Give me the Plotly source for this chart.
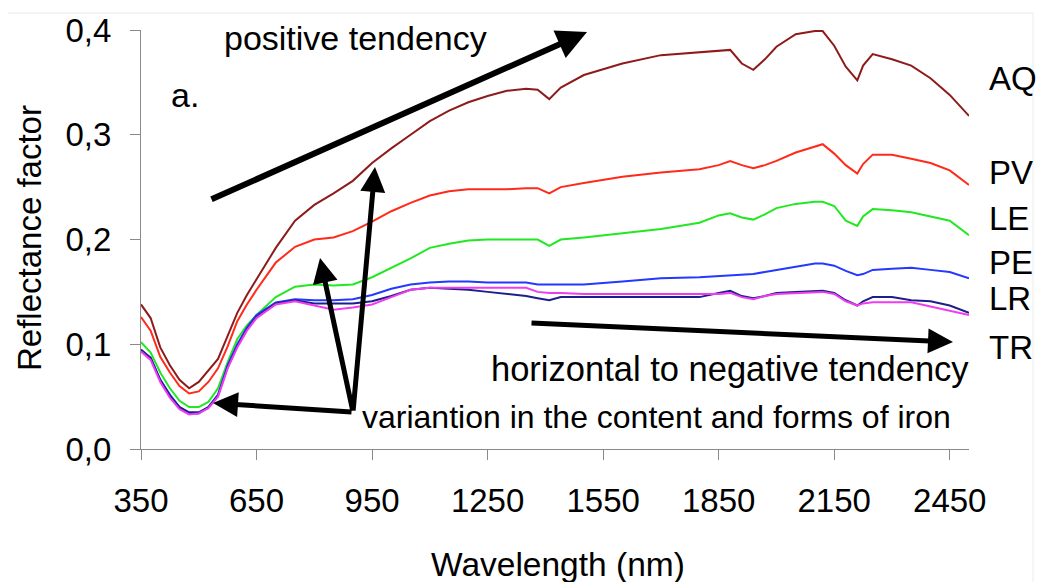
import plotly.graph_objects as go

# ---------------- data ----------------
wavelength = [350, 375, 400, 425, 450, 475, 500, 525, 550, 575, 600, 625, 650,
              700, 750, 800, 850, 900, 950, 1000, 1050, 1100, 1150, 1200, 1250,
              1300, 1350, 1380, 1410, 1440, 1500, 1600, 1700, 1800, 1850, 1880,
              1910, 1940, 1970, 2000, 2050, 2100, 2120, 2150, 2180, 2210, 2225,
              2250, 2300, 2350, 2400, 2450, 2500]

AQ = [0.138, 0.125, 0.097, 0.080, 0.066, 0.058, 0.064, 0.075, 0.086, 0.108, 0.130, 0.147, 0.162,
      0.192, 0.218, 0.233, 0.244, 0.256, 0.273, 0.287, 0.300, 0.313, 0.323, 0.331, 0.337,
      0.342, 0.344, 0.343, 0.334, 0.345, 0.357, 0.368, 0.376, 0.379, 0.380, 0.381,
      0.368, 0.362, 0.372, 0.384, 0.396, 0.399, 0.399, 0.385, 0.365, 0.352, 0.366,
      0.377, 0.372, 0.366, 0.354, 0.338, 0.318]

PV = [0.126, 0.113, 0.088, 0.073, 0.060, 0.053, 0.055, 0.064, 0.077, 0.098, 0.122, 0.138, 0.152,
      0.178, 0.193, 0.200, 0.202, 0.208, 0.217, 0.227, 0.235, 0.242, 0.246, 0.248, 0.248,
      0.248, 0.249, 0.249, 0.244, 0.250, 0.254, 0.260, 0.264, 0.267, 0.271, 0.275,
      0.271, 0.268, 0.271, 0.275, 0.283, 0.289, 0.291, 0.282, 0.271, 0.263, 0.272,
      0.281, 0.281, 0.277, 0.273, 0.266, 0.252]

LE = [0.102, 0.092, 0.073, 0.058, 0.046, 0.040, 0.040, 0.045, 0.058, 0.083, 0.105, 0.118, 0.128,
      0.145, 0.155, 0.157, 0.156, 0.157, 0.164, 0.173, 0.182, 0.192, 0.196, 0.199, 0.200,
      0.200, 0.200, 0.200, 0.194, 0.200, 0.202, 0.206, 0.210, 0.216, 0.223, 0.225,
      0.221, 0.219, 0.224, 0.230, 0.234, 0.236, 0.236, 0.232, 0.218, 0.213, 0.222,
      0.229, 0.228, 0.226, 0.222, 0.218, 0.204]

PE = [0.094, 0.087, 0.066, 0.052, 0.040, 0.034, 0.034, 0.040, 0.052, 0.080, 0.100, 0.116, 0.128,
      0.140, 0.143, 0.142, 0.142, 0.143, 0.147, 0.153, 0.157, 0.159, 0.160, 0.160, 0.159,
      0.159, 0.159, 0.157, 0.157, 0.157, 0.157, 0.160, 0.163, 0.164, 0.165, 0.166,
      0.166, 0.167, 0.169, 0.171, 0.174, 0.177, 0.177, 0.175, 0.170, 0.166, 0.167,
      0.171, 0.172, 0.173, 0.171, 0.169, 0.163]

LR = [0.095, 0.087, 0.066, 0.051, 0.040, 0.035, 0.035, 0.040, 0.051, 0.078, 0.098, 0.114, 0.126,
      0.139, 0.142, 0.139, 0.139, 0.139, 0.141, 0.146, 0.152, 0.154, 0.153, 0.152, 0.150,
      0.148, 0.146, 0.144, 0.142, 0.145, 0.145, 0.145, 0.145, 0.145, 0.149, 0.151,
      0.146, 0.144, 0.146, 0.149, 0.150, 0.151, 0.151, 0.149, 0.142, 0.137, 0.141,
      0.145, 0.145, 0.142, 0.141, 0.137, 0.130]

TR = [0.093, 0.085, 0.064, 0.049, 0.038, 0.033, 0.034, 0.039, 0.050, 0.077, 0.097, 0.113, 0.125,
      0.138, 0.141, 0.137, 0.133, 0.135, 0.138, 0.145, 0.152, 0.154, 0.154, 0.154, 0.154,
      0.154, 0.154, 0.150, 0.149, 0.149, 0.148, 0.148, 0.148, 0.148, 0.148, 0.149,
      0.145, 0.143, 0.146, 0.148, 0.149, 0.150, 0.150, 0.148, 0.141, 0.137, 0.139,
      0.140, 0.140, 0.140, 0.136, 0.132, 0.128]

series_names = ["AQ", "PV", "LE", "PE", "LR", "TR"]
series_values = [AQ, PV, LE, PE, LR, TR]
series_colors = ["#8E1B1B", "#FF2A1A", "#22E822", "#2438FF", "#1C1F8A", "#F03CF0"]
label_y = [78, 172, 218, 262, 298, 347]  # pixel rows of the right-hand labels

x_tickvals = [350, 650, 950, 1250, 1550, 1850, 2150, 2450]
x_ticktext = ["350", "650", "950", "1250", "1550", "1850", "2150", "2450"]
y_tickvals = [0.0, 0.1, 0.2, 0.3, 0.4]
y_ticktext = ["0,0", "0,1", "0,2", "0,3", "0,4"]

# ---------------- layout geometry ----------------
W, H = 1039, 582
L, R, T, B = 141, 70, 30, 133
PW, PH = W - L - R, H - T - B
X0, X1 = 350, 2500
Y0, Y1 = 0.0, 0.4


def px2x(px):
    return X0 + (px - L) / PW * (X1 - X0)


def py2y(py):
    return Y0 + (T + PH - py) / PH * (Y1 - Y0)


def px2paper(px):
    return (px - L) / PW


def py2paper(py):
    return (T + PH - py) / PH


FONT = "Liberation Sans, Arial, sans-serif"

fig = go.Figure()
for name, vals, col in zip(series_names, series_values, series_colors):
    fig.add_trace(go.Scatter(x=wavelength, y=vals, mode="lines", name=name,
                             line=dict(color=col, width=2), showlegend=False))

ann = []
# right-hand series labels
for name, ly in zip(series_names, label_y):
    ann.append(dict(text=name, xref="paper", yref="paper", x=px2paper(987), y=py2paper(ly),
                    xanchor="left", yanchor="middle", showarrow=False,
                    font=dict(size=33, color="black", family=FONT)))

# texts
ann.append(dict(text="positive tendency", xref="x", yref="y", x=px2x(355), y=py2y(38),
                xanchor="center", yanchor="middle", showarrow=False,
                font=dict(size=34, color="black", family=FONT)))
ann.append(dict(text="a.", xref="x", yref="y", x=px2x(169), y=py2y(95),
                xanchor="left", yanchor="middle", showarrow=False,
                font=dict(size=34, color="black", family=FONT)))
ann.append(dict(text="horizontal to negative tendency", xref="x", yref="y", x=px2x(730), y=py2y(369),
                xanchor="center", yanchor="middle", showarrow=False,
                font=dict(size=34.5, color="black", family=FONT)))
ann.append(dict(text="variantion in the content and forms of iron", xref="x", yref="y",
                x=px2x(656), y=py2y(417), xanchor="center", yanchor="middle", showarrow=False,
                font=dict(size=32, color="black", family=FONT)))

# arrows (tail -> tip)
arrows = [
    ((210, 200), (587, 32), 6),
    ((530, 323), (953, 342), 5),
    ((353, 412), (213, 403), 5),
    ((353, 412), (320, 258), 5),
    ((353, 412), (375, 167), 5),
]
for (tx, ty), (hx, hy), w in arrows:
    ann.append(dict(text="", xref="x", yref="y", x=px2x(hx), y=py2y(hy),
                    axref="x", ayref="y", ax=px2x(tx), ay=py2y(ty),
                    showarrow=True, arrowhead=2, arrowsize=1.0, arrowwidth=w,
                    arrowcolor="black", standoff=0))

# y axis title
ann.append(dict(text="Reflectance factor", xref="paper", yref="paper",
                x=px2paper(29), y=py2paper(238), textangle=-90,
                xanchor="center", yanchor="middle", showarrow=False,
                font=dict(size=33, color="black", family=FONT)))
# x axis title
ann.append(dict(text="Wavelength (nm)", xref="paper", yref="paper",
                x=px2paper(558), y=py2paper(564), xanchor="center", yanchor="middle",
                showarrow=False, font=dict(size=33.5, color="black", family=FONT)))

shapes = [
    dict(type="line", xref="paper", yref="paper", x0=px2paper(8), x1=px2paper(1033),
         y0=py2paper(13), y1=py2paper(13), line=dict(color="#e8e8e8", width=1)),
    dict(type="line", xref="paper", yref="paper", x0=px2paper(1033), x1=px2paper(1033),
         y0=py2paper(13), y1=py2paper(582), line=dict(color="#ececec", width=1)),
]

axis_common = dict(showgrid=False, zeroline=False, showline=True, linecolor="#8a8a8a",
                   linewidth=1, ticks="outside", ticklen=10, tickcolor="#8a8a8a",
                   tickwidth=1, tickfont=dict(size=33, color="black", family=FONT))

fig.update_layout(
    width=W, height=H,
    margin=dict(l=L, r=R, t=T, b=B, pad=0),
    paper_bgcolor="white", plot_bgcolor="white",
    xaxis=dict(range=[X0, X1], tickmode="array", tickvals=x_tickvals, ticktext=x_ticktext,
               ticklabelstandoff=12, **axis_common),
    yaxis=dict(range=[Y0, Y1], tickmode="array", tickvals=y_tickvals, ticktext=y_ticktext,
               ticklabelstandoff=12, **axis_common),
    annotations=ann,
    shapes=shapes,
    font=dict(family=FONT, color="black"),
)

fig.write_html("out.html")
